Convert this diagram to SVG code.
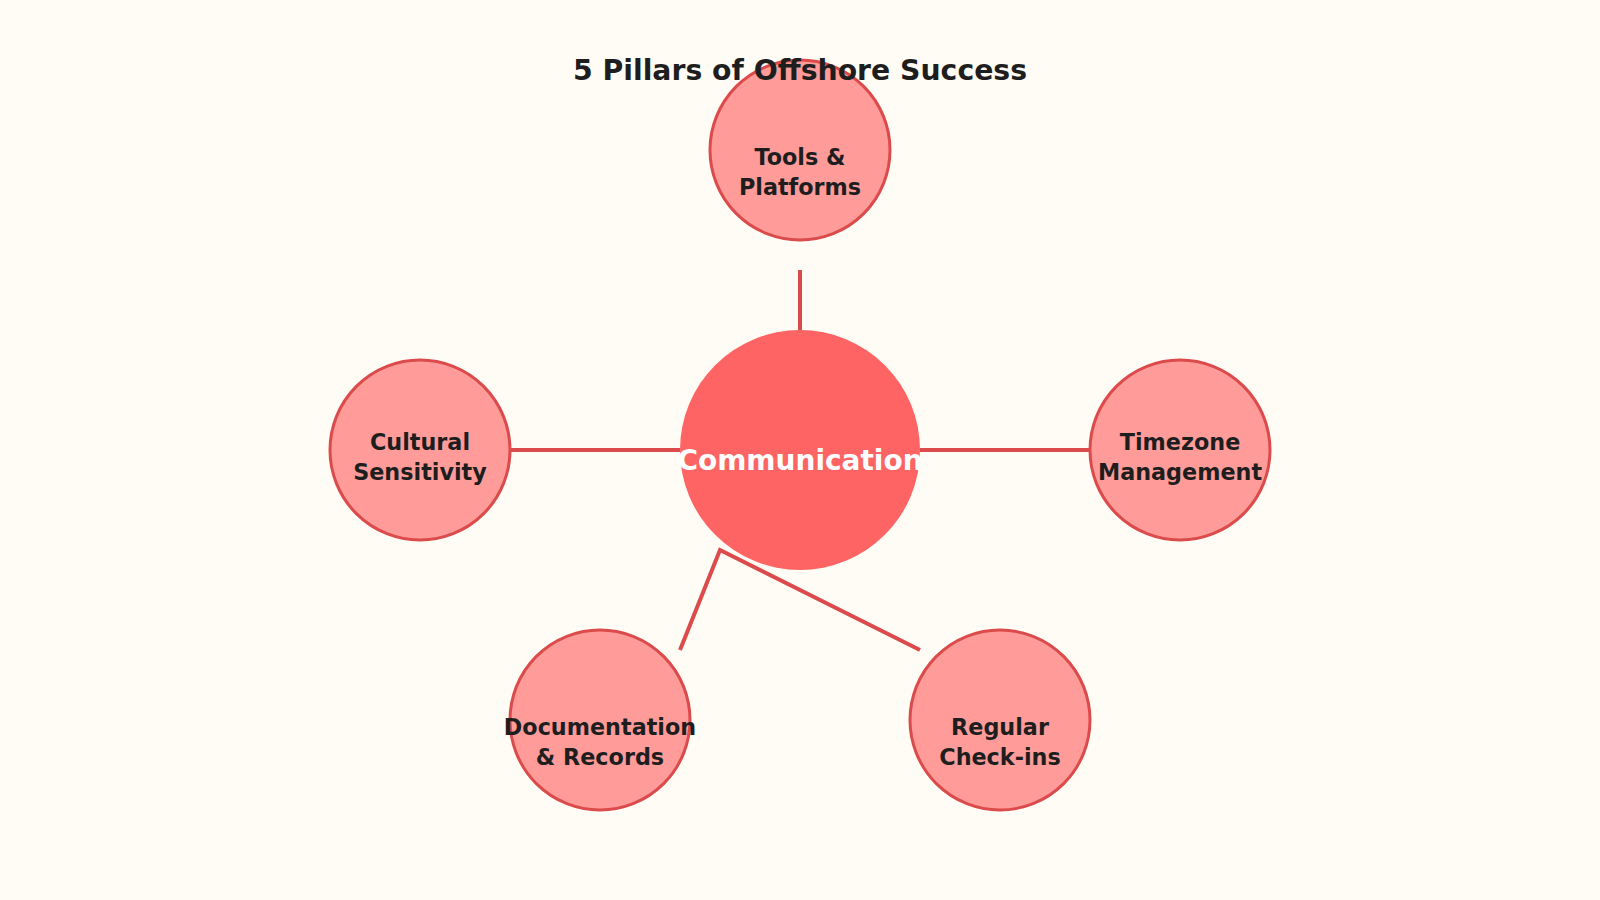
<svg xmlns="http://www.w3.org/2000/svg" width="1600" height="900" viewBox="0 0 1600 900">
<style>
.bg{fill:#FFFCF5}
.edge{stroke:#DB4B4B;stroke-width:4;fill:none}
.pillar{fill:#FF9C9A;stroke:#DB4B4B;stroke-width:3}
.hub{fill:#FF6464}
.lbl{font-family:"DejaVu Sans",sans-serif;font-weight:bold;font-size:22.3px;fill:#1E1E1E;text-anchor:middle}
.hublbl{font-family:"DejaVu Sans",sans-serif;font-weight:bold;font-size:28px;fill:#FFFFFF;text-anchor:middle}
.title{font-family:"DejaVu Sans",sans-serif;font-weight:bold;font-size:28.3px;fill:#1E1E1E;text-anchor:middle}
</style>
<rect class="bg" x="0" y="0" width="1600" height="900"/>
<g id="connectors">
<line class="edge" x1="800" y1="270" x2="800" y2="330"/>
<line class="edge" x1="510" y1="450" x2="680" y2="450"/>
<line class="edge" x1="920" y1="450" x2="1090" y2="450"/>
<polyline class="edge" points="680,650 720,550 920,650"/>
</g>
<g id="node-communication">
<circle class="hub" cx="800" cy="450" r="120"/>
<text class="hublbl" x="800" y="470">Communication</text>
</g>
<g id="node-tools">
<circle class="pillar" cx="800" cy="150" r="90"/>
<text class="lbl" x="800" y="165">Tools &amp;</text>
<text class="lbl" x="800" y="195">Platforms</text>
</g>
<g id="node-cultural">
<circle class="pillar" cx="420" cy="450" r="90"/>
<text class="lbl" x="420" y="450">Cultural</text>
<text class="lbl" x="420" y="480">Sensitivity</text>
</g>
<g id="node-timezone">
<circle class="pillar" cx="1180" cy="450" r="90"/>
<text class="lbl" x="1180" y="450">Timezone</text>
<text class="lbl" x="1180" y="480">Management</text>
</g>
<g id="node-documentation">
<circle class="pillar" cx="600" cy="720" r="90"/>
<text class="lbl" x="600" y="735">Documentation</text>
<text class="lbl" x="600" y="765">&amp; Records</text>
</g>
<g id="node-checkins">
<circle class="pillar" cx="1000" cy="720" r="90"/>
<text class="lbl" x="1000" y="735">Regular</text>
<text class="lbl" x="1000" y="765">Check-ins</text>
</g>
<text class="title" x="800" y="80">5 Pillars of Offshore Success</text>
</svg>
